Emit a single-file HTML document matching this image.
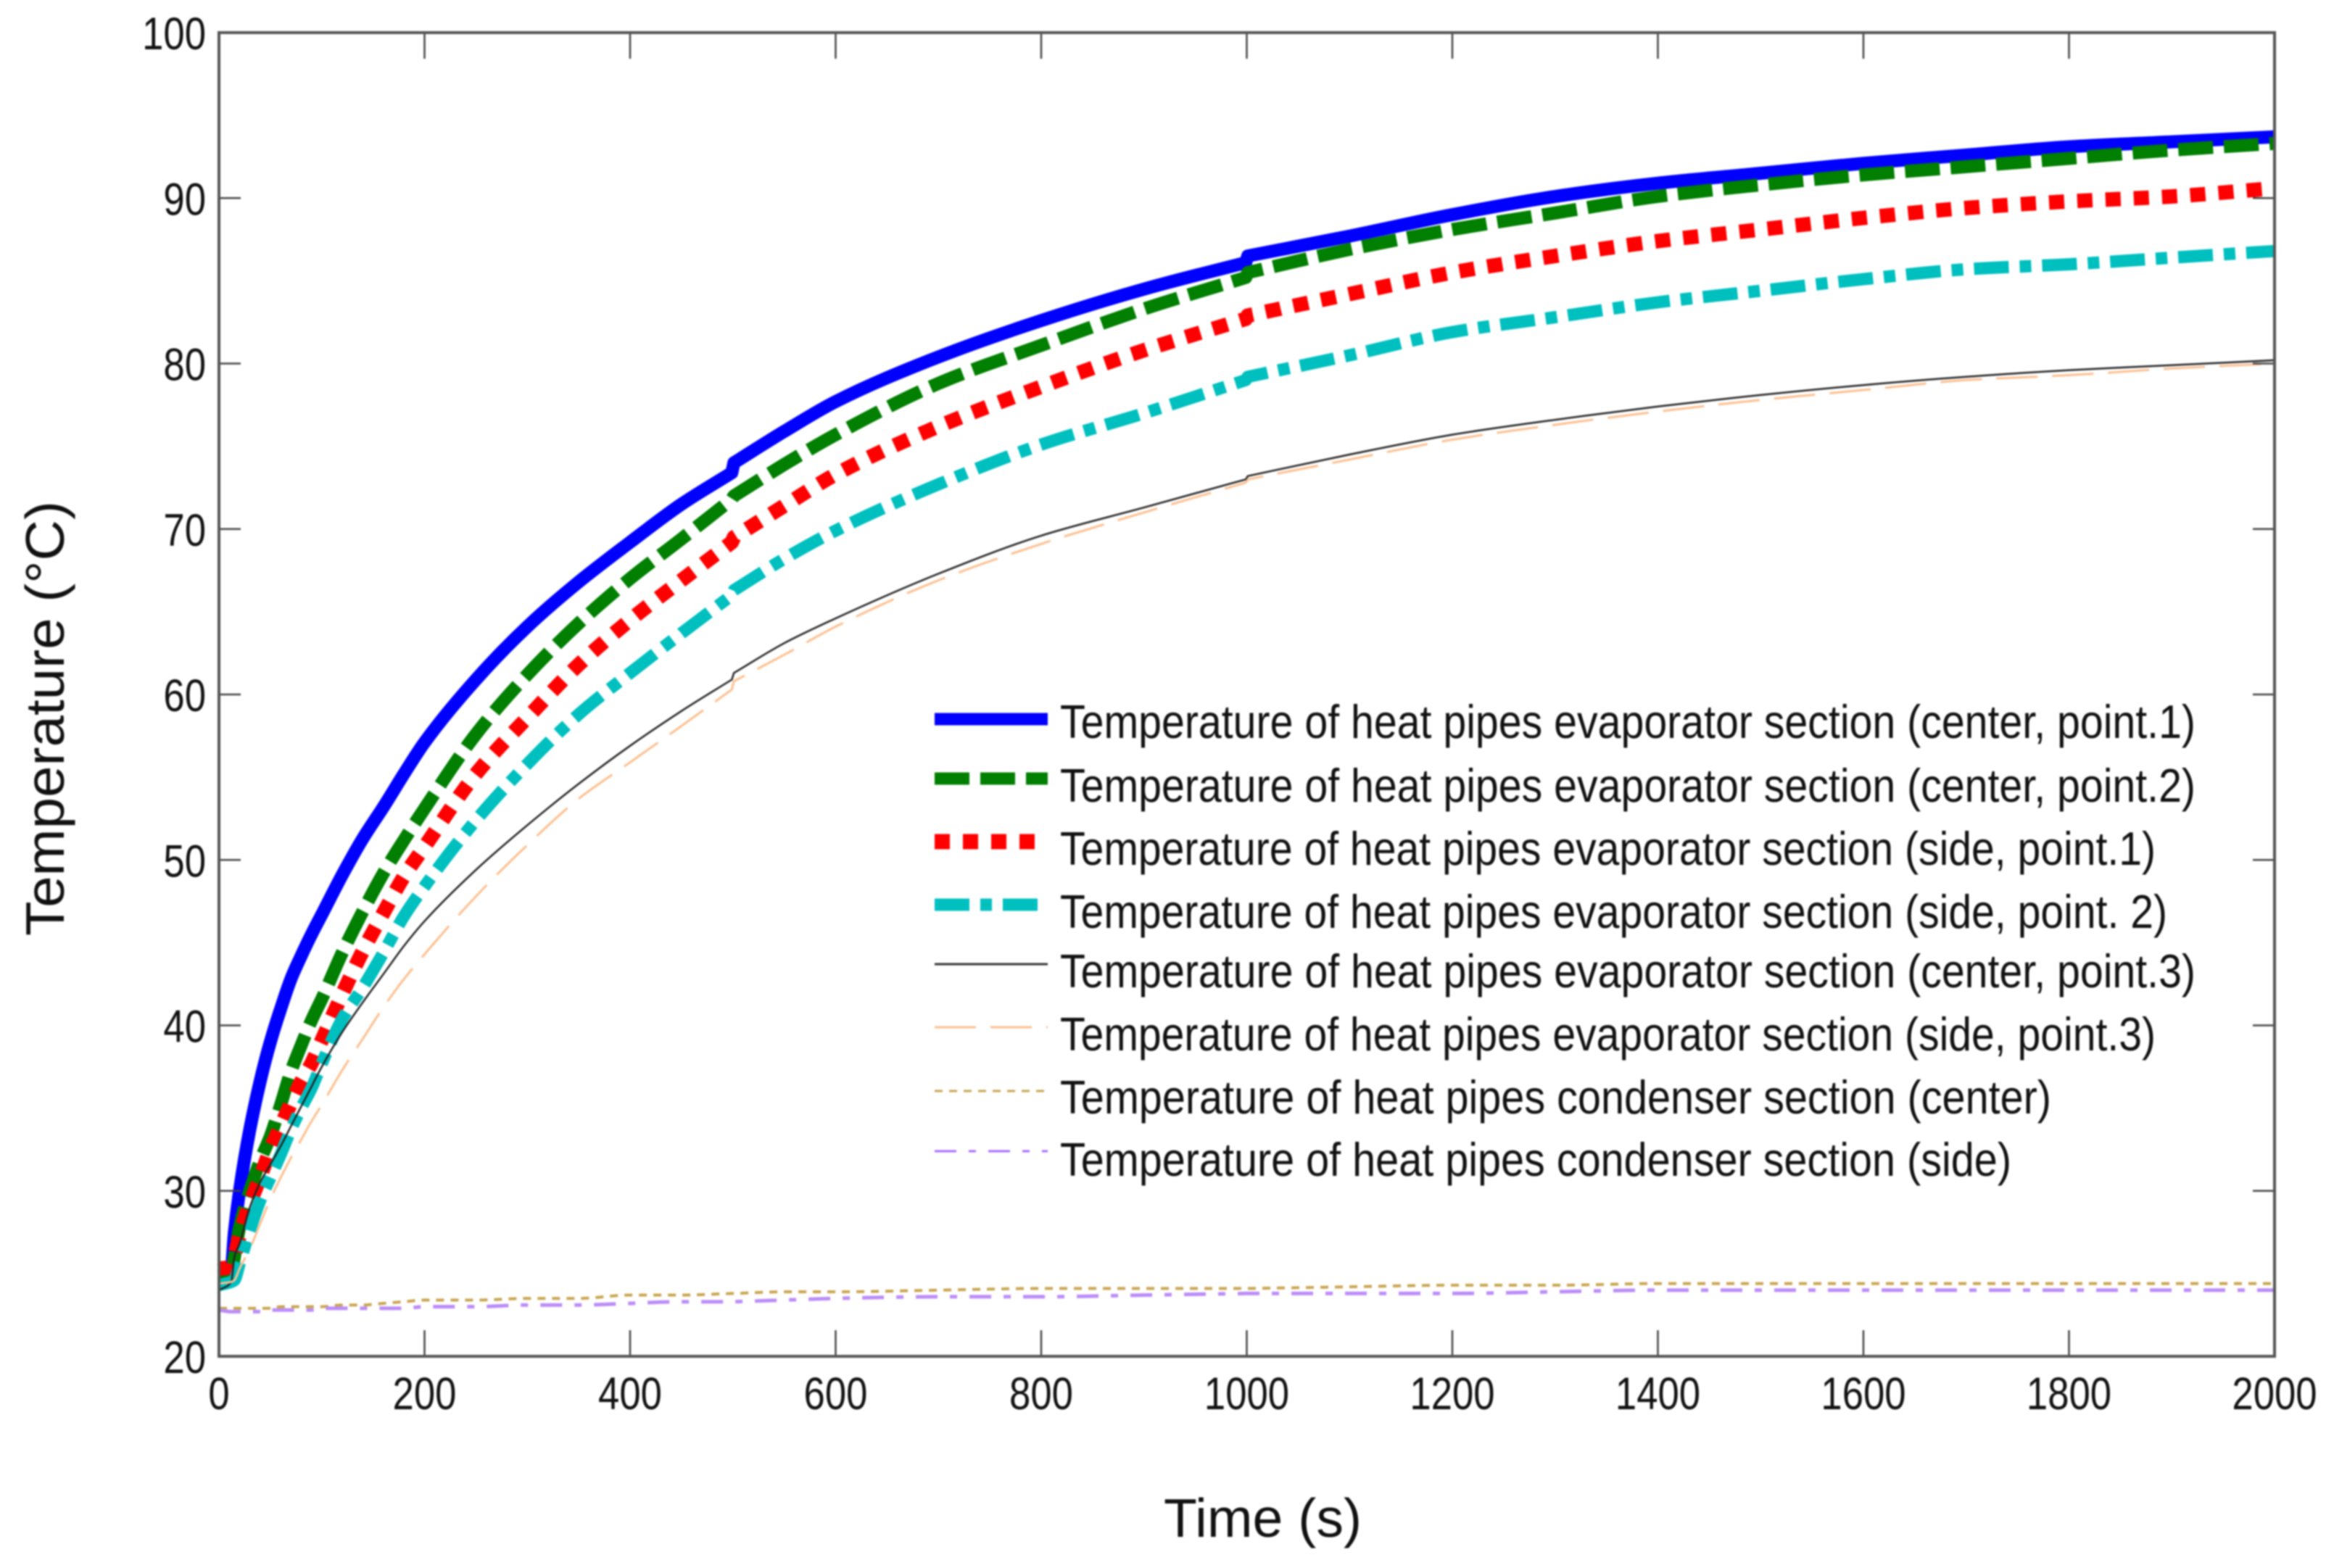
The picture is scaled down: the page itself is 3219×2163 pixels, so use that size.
<!DOCTYPE html>
<html lang="en">
<head>
<meta charset="utf-8">
<title>Heat pipe temperature over time</title>
<style>
  html, body { margin: 0; padding: 0; background: #ffffff; }
  #chart { display: block; filter: blur(1.1px); }
  text { font-family: "Liberation Sans", sans-serif; fill: #111111; }
</style>
</head>
<body>
<svg id="chart" xmlns="http://www.w3.org/2000/svg" width="3219" height="2163" viewBox="0 0 3219 2163">
  <rect x="0" y="0" width="3219" height="2163" fill="#ffffff"/>
  <g id="series-layer"></g>
  <g id="tick-layer"></g>
  <g id="tick-label-layer"></g>
  <rect x="302" y="45" width="2835" height="1826" fill="none" stroke="#555555" stroke-width="4"/>

  <text x="1605" y="2120" font-size="75" textLength="273" lengthAdjust="spacingAndGlyphs">Time (s)</text>
  <text transform="translate(88,1291) rotate(-90)" font-size="75" textLength="600" lengthAdjust="spacingAndGlyphs">Temperature (°C)</text>

  <g>
    <g>
      <line x1="1289" x2="1445" y1="992" y2="992" stroke="#0000ff" stroke-width="17"/>
      <text x="1462" y="1018" font-size="65" textLength="1566" lengthAdjust="spacingAndGlyphs">Temperature of heat pipes evaporator section (center, point.1)</text>
    </g>
    <g>
      <line x1="1289" x2="1445" y1="1074" y2="1074" stroke="#007f00" stroke-width="17" stroke-dasharray="48 15"/>
      <text x="1462" y="1106" font-size="65" textLength="1566" lengthAdjust="spacingAndGlyphs">Temperature of heat pipes evaporator section (center, point.2)</text>
    </g>
    <g>
      <line x1="1289" x2="1445" y1="1161" y2="1161" stroke="#ff0000" stroke-width="21" stroke-dasharray="21 18"/>
      <text x="1462" y="1193" font-size="65" textLength="1511" lengthAdjust="spacingAndGlyphs">Temperature of heat pipes evaporator section (side, point.1)</text>
    </g>
    <g>
      <line x1="1289" x2="1445" y1="1248" y2="1248" stroke="#00bfbf" stroke-width="17" stroke-dasharray="48 15 16 15"/>
      <text x="1462" y="1280" font-size="65" textLength="1527" lengthAdjust="spacingAndGlyphs">Temperature of heat pipes evaporator section (side, point. 2)</text>
    </g>
    <g>
      <line x1="1289" x2="1445" y1="1330" y2="1330" stroke="#333333" stroke-width="3"/>
      <text x="1462" y="1362" font-size="65" textLength="1566" lengthAdjust="spacingAndGlyphs">Temperature of heat pipes evaporator section (center, point.3)</text>
    </g>
    <g>
      <line x1="1289" x2="1445" y1="1417" y2="1417" stroke="#fdbf8f" stroke-width="3" stroke-dasharray="57 20"/>
      <text x="1462" y="1449" font-size="65" textLength="1511" lengthAdjust="spacingAndGlyphs">Temperature of heat pipes evaporator section (side, point.3)</text>
    </g>
    <g>
      <line x1="1289" x2="1445" y1="1505" y2="1505" stroke="#c9a550" stroke-width="3" stroke-dasharray="11 9"/>
      <text x="1462" y="1536" font-size="65" textLength="1367" lengthAdjust="spacingAndGlyphs">Temperature of heat pipes condenser section (center)</text>
    </g>
    <g>
      <line x1="1289" x2="1445" y1="1588" y2="1588" stroke="#a86cff" stroke-width="3" stroke-dasharray="30 17 10 17"/>
      <text x="1462" y="1622" font-size="65" textLength="1312" lengthAdjust="spacingAndGlyphs">Temperature of heat pipes condenser section (side)</text>
    </g>
  </g>
</svg>
<script>
const timeSeconds = [0,12,15,20,30,40,50,60,70,80,90,100,120,140,160,180,200,250,300,350,400,450,499,501,550,600,700,800,900,999,1001,1100,1200,1300,1400,1500,1600,1700,1800,1900,2000];
const evaporatorCenter1 = [25.2,25.4,27.5,30,33.7,36.6,39,41,42.8,44.2,45.5,46.7,49.1,51.3,53.2,55.2,57.1,60.9,64.1,66.8,69.2,71.5,73.4,74,75.9,77.7,80.4,82.6,84.5,86.1,86.5,87.7,89,90.1,90.9,91.5,92.1,92.6,93.1,93.4,93.7];
const evaporatorCenter2 = [24.8,25,26,27.8,30,31.8,33.3,35.2,37.2,38.8,40.3,41.6,44.4,46.9,49.2,51.2,53.1,57.6,61.2,64.3,67,69.4,71.8,72,73.9,75.7,78.8,81.1,83.3,85.2,85.5,86.9,88.1,89.1,90.1,90.8,91.4,91.9,92.4,92.9,93.3];
const evaporatorSide1 = [25.3,25.4,26,27.3,29.2,30.8,32.5,33.9,35.3,36.6,37.7,39.1,41.9,44.5,46.8,49,50.8,55.2,58.6,61.8,64.5,66.9,69.2,69.5,71.4,73.3,76.2,78.6,80.8,82.7,82.9,84.2,85.5,86.5,87.4,88.1,88.8,89.4,89.8,90.1,90.6];
const evaporatorSide2 = [24.3,24.5,24.6,25.6,27.6,29.4,30.8,32.2,33.7,35,36.2,37.7,40.4,42.3,44.4,46.6,48.4,52.4,55.8,58.8,61.3,63.7,66,66.3,68.2,69.9,72.7,75.1,77,79,79.2,80.5,81.9,82.8,83.7,84.4,85.1,85.7,86,86.4,86.8];
const evaporatorCenter3 = [24,24.5,26,26.8,29,30.5,31.6,32.7,33.9,35.1,36.3,37.5,39.6,41.4,43.1,44.8,46.3,49.4,52.1,54.6,56.9,59,60.9,61.3,63.1,64.6,67.3,69.6,71.3,73,73.2,74.5,75.7,76.6,77.4,78.1,78.7,79.2,79.6,79.9,80.2];
const evaporatorSide3 = [24.4,24.5,24.6,25.3,26.5,28,29.5,30.8,32,33.1,34.2,35.2,37.3,39.2,41.1,42.8,44.3,47.8,50.9,53.7,55.9,58.1,60.3,60.8,62.4,64.1,66.9,69.1,71,72.8,73,74.2,75.4,76.3,77.1,77.8,78.4,79,79.3,79.7,80];
const condenserCenter = [22.9,22.9,22.9,22.9,22.9,22.9,22.9,23,23,23,23,23,23.1,23.1,23.2,23.3,23.4,23.4,23.5,23.5,23.7,23.7,23.8,23.8,23.9,23.9,24,24.1,24.1,24.1,24.1,24.2,24.3,24.3,24.4,24.4,24.4,24.4,24.4,24.4,24.4];
const condenserSide = [22.8,22.7,22.7,22.7,22.7,22.7,22.8,22.8,22.8,22.8,22.8,22.9,22.9,22.9,22.9,22.9,23,23,23.1,23.1,23.2,23.3,23.3,23.3,23.4,23.5,23.6,23.6,23.7,23.8,23.8,23.8,23.8,23.9,24,24,24,24,24,24,24];
const xTickLabels = [0,200,400,600,800,1000,1200,1400,1600,1800,2000];
const yTickLabels = [20,30,40,50,60,70,80,90,100];

const SVG_NS = 'http://www.w3.org/2000/svg';

function xScale(t) {
  return 302 + (t / 2000) * 2835;
}
function yScale(v) {
  return 1871 - ((v - 20) / 80) * 1826;
}

const seriesLayer = document.getElementById('series-layer');
const tickLayer = document.getElementById('tick-layer');
const labelLayer = document.getElementById('tick-label-layer');

// Monotone cubic through one run of points; returns the C commands for that run.
function splineRun(xs, ys) {
  const n = xs.length;
  const slopes = [];
  for (let i = 0; i < n - 1; i++) {
    slopes.push((ys[i + 1] - ys[i]) / (xs[i + 1] - xs[i]));
  }
  const tangents = [slopes[0]];
  for (let i = 1; i < n - 1; i++) {
    if (slopes[i - 1] * slopes[i] <= 0) {
      tangents.push(0);
    } else {
      const w1 = 2 * (xs[i + 1] - xs[i]) + (xs[i] - xs[i - 1]);
      const w2 = (xs[i + 1] - xs[i]) + 2 * (xs[i] - xs[i - 1]);
      tangents.push((w1 + w2) / (w1 / slopes[i - 1] + w2 / slopes[i]));
    }
  }
  tangents.push(slopes[n - 2]);
  let d = '';
  for (let i = 0; i < n - 1; i++) {
    const h = (xs[i + 1] - xs[i]) / 3;
    d += ' C' + (xs[i] + h).toFixed(1) + ' ' + (ys[i] + tangents[i] * h).toFixed(1) +
         ' ' + (xs[i + 1] - h).toFixed(1) + ' ' + (ys[i + 1] - tangents[i + 1] * h).toFixed(1) +
         ' ' + xs[i + 1].toFixed(1) + ' ' + ys[i + 1].toFixed(1);
  }
  return d;
}

// Points less than 3 s apart are step changes: break the spline there and join with a straight line.
function smoothPath(values) {
  const xs = timeSeconds.map(xScale);
  const ys = values.map(yScale);
  let d = 'M' + xs[0].toFixed(1) + ' ' + ys[0].toFixed(1);
  let start = 0;
  for (let i = 1; i <= timeSeconds.length; i++) {
    const isEnd = i === timeSeconds.length;
    if (isEnd || timeSeconds[i] - timeSeconds[i - 1] < 3) {
      d += splineRun(xs.slice(start, i), ys.slice(start, i));
      if (!isEnd) {
        d += ' L' + xs[i].toFixed(1) + ' ' + ys[i].toFixed(1);
      }
      start = i;
    }
  }
  return d;
}

function drawSeries(values, name, color, width, dash) {
  const line = document.createElementNS(SVG_NS, 'path');
  
  
  line.setAttribute('d', smoothPath(values));
  line.setAttribute('fill', 'none');
  line.setAttribute('stroke', color);
  line.setAttribute('stroke-width', width);
  line.setAttribute('stroke-linejoin', 'round');
  if (dash) line.setAttribute('stroke-dasharray', dash);
  seriesLayer.appendChild(line);
}

drawSeries(evaporatorCenter1, 'series-evaporator-center-point-1', '#0000ff', 18, '');
drawSeries(evaporatorCenter2, 'series-evaporator-center-point-2', '#007f00', 18, '48 15');
drawSeries(evaporatorSide1, 'series-evaporator-side-point-1', '#ff0000', 20, '21 18');
drawSeries(evaporatorSide2, 'series-evaporator-side-point-2', '#00bfbf', 17, '48 15 16 15');
drawSeries(evaporatorCenter3, 'series-evaporator-center-point-3', '#222222', 2.5, '');
drawSeries(evaporatorSide3, 'series-evaporator-side-point-3', '#fdbf8f', 3, '57 20');
drawSeries(condenserCenter, 'series-condenser-center', '#c9a550', 4, '11 9');
drawSeries(condenserSide, 'series-condenser-side', '#bb8cf8', 5, '30 17 10 17');

function addTick(x1, y1, x2, y2) {
  const tick = document.createElementNS(SVG_NS, 'line');
  
  
  tick.setAttribute('x1', x1);
  tick.setAttribute('y1', y1);
  tick.setAttribute('x2', x2);
  tick.setAttribute('y2', y2);
  tick.setAttribute('stroke', '#444444');
  tick.setAttribute('stroke-width', '2.5');
  tickLayer.appendChild(tick);
}

function addLabel(text, x, y, anchor, name) {
  const label = document.createElementNS(SVG_NS, 'text');
  
  
  label.setAttribute('x', x);
  label.setAttribute('y', y);
  label.setAttribute('font-size', '63');
  label.setAttribute('text-anchor', anchor);
  label.setAttribute('textLength', String(text).length * 29.3);
  label.setAttribute('lengthAdjust', 'spacingAndGlyphs');
  label.textContent = text;
  labelLayer.appendChild(label);
}

xTickLabels.forEach(function (t) {
  const x = xScale(t);
  addTick(x, 1871, x, 1835);
  addTick(x, 45, x, 81);
  addLabel(t, x, 1944, 'middle', 'x-tick-label');
});

yTickLabels.forEach(function (v) {
  const y = yScale(v);
  addTick(302, y, 332, y);
  addTick(3137, y, 3107, y);
  addLabel(v, 284, y + 23, 'end', 'y-tick-label');
});
</script>
</body>
</html>
